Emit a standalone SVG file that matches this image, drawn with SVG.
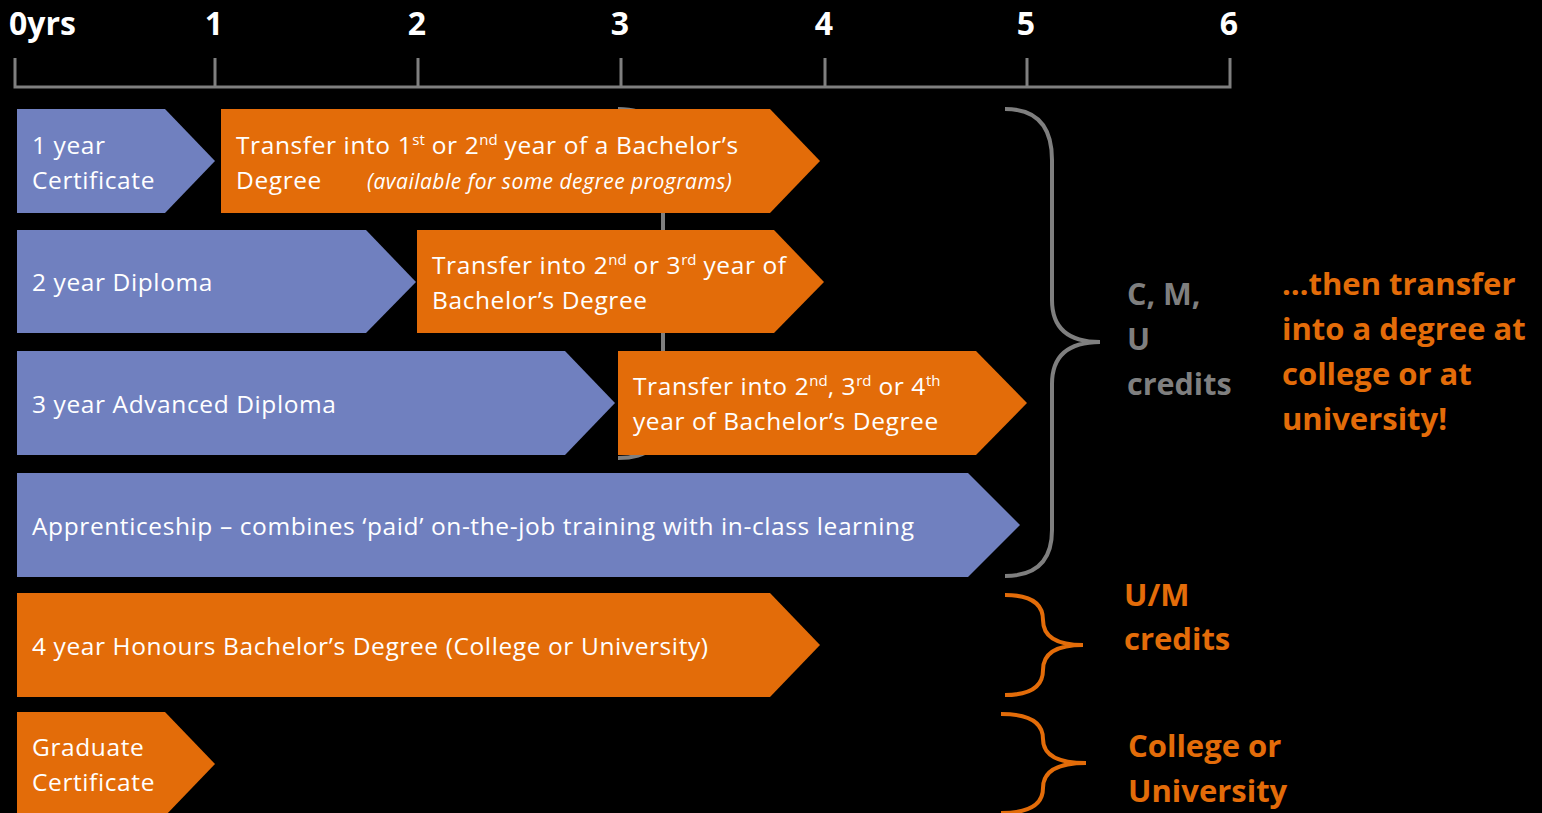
<svg xmlns="http://www.w3.org/2000/svg" width="1542" height="813" viewBox="0 0 1542 813">
<style>
.bg{fill:#000}
.blue{fill:#7080BF}
.orange{fill:#E36C09}
.t{font-family:"Open Sans","Liberation Sans",sans-serif;font-size:24.5px;letter-spacing:0.6px;fill:#fff}
.it{font-style:italic;font-size:21px;letter-spacing:0.5px}
.sup{font-size:15px;letter-spacing:0}
.ax{font-family:"Open Sans","Liberation Sans",sans-serif;font-weight:bold;font-size:32px;fill:#fff}
.gl{font-family:"Open Sans","Liberation Sans",sans-serif;font-weight:bold;font-size:30.5px;fill:#7F7F7F}
.ol{font-family:"Open Sans","Liberation Sans",sans-serif;font-weight:bold;font-size:31px;fill:#E36C09}
.axis{stroke:#7F7F7F;stroke-width:3;fill:none}
.gbrace{stroke:#7F7F7F;stroke-width:4;fill:none}
.obrace{stroke:#E36C09;stroke-width:4;fill:none}
</style>
<rect class="bg" x="0" y="0" width="1542" height="813"/>
<g id="axis">
<path class="axis" d="M15,58 V87 H1230 V58 M215,58 V87 M418,58 V87 M621,58 V87 M825,58 V87 M1027,58 V87"/>
<text class="ax" x="9" y="35">0yrs</text>
<text class="ax" x="214" y="35" text-anchor="middle">1</text>
<text class="ax" x="417" y="35" text-anchor="middle">2</text>
<text class="ax" x="620" y="35" text-anchor="middle">3</text>
<text class="ax" x="824" y="35" text-anchor="middle">4</text>
<text class="ax" x="1026" y="35" text-anchor="middle">5</text>
<text class="ax" x="1229" y="35" text-anchor="middle">6</text>
</g>
<g id="connectors">
<path class="gbrace" d="M618,109 Q663,109 663,150 L663,420 Q663,458 618,458"/>
<path class="gbrace" d="M1005,109 Q1052,109 1052,160 L1052,300 Q1052,342 1100,342 Q1052,342 1052,384 L1052,530 Q1052,576 1005,576"/>
<path class="obrace" d="M1005,595 Q1043,595 1043,620 Q1043,645 1083,645 Q1043,645 1043,670 Q1043,695 1005,695"/>
<path class="obrace" d="M1001,714 Q1043,714 1043,739 Q1043,763 1086,763 Q1043,763 1043,788 Q1043,813 1001,813"/>
</g>
<g id="cert1">
<polygon class="blue" points="17,109 165,109 215,161 165,213 17,213"/>
<text class="t" x="32" y="154">1 year</text>
<text class="t" x="32" y="189">Certificate</text>
</g>
<g id="transfer1">
<polygon class="orange" points="221,109 770,109 820,161 770,213 221,213"/>
<text class="t" x="236" y="154">Transfer into 1<tspan class="sup" dy="-9">st</tspan><tspan dy="9"> or 2</tspan><tspan class="sup" dy="-9">nd</tspan><tspan dy="9"> year of a Bachelor’s</tspan></text>
<text class="t" x="236" y="189">Degree</text>
<text class="t it" x="367" y="189">(available for some degree programs)</text>
</g>
<g id="diploma2">
<polygon class="blue" points="17,230 366,230 416,282 366,333 17,333"/>
<text class="t" x="32" y="291">2 year Diploma</text>
</g>
<g id="transfer2">
<polygon class="orange" points="417,230 774,230 824,282 774,333 417,333"/>
<text class="t" x="432" y="274">Transfer into 2<tspan class="sup" dy="-9">nd</tspan><tspan dy="9"> or 3</tspan><tspan class="sup" dy="-9">rd</tspan><tspan dy="9"> year of</tspan></text>
<text class="t" x="432" y="309">Bachelor’s Degree</text>
</g>
<g id="diploma3">
<polygon class="blue" points="17,351 565,351 615,403 565,455 17,455"/>
<text class="t" x="32" y="413">3 year Advanced Diploma</text>
</g>
<g id="transfer3">
<polygon class="orange" points="618,351 976,351 1027,403 976,455 618,455"/>
<text class="t" x="633" y="395">Transfer into 2<tspan class="sup" dy="-9">nd</tspan><tspan dy="9">, 3</tspan><tspan class="sup" dy="-9">rd</tspan><tspan dy="9"> or 4</tspan><tspan class="sup" dy="-9">th</tspan></text>
<text class="t" x="633" y="430">year of Bachelor’s Degree</text>
</g>
<g id="apprenticeship">
<polygon class="blue" points="17,473 968,473 1020,525 968,577 17,577"/>
<text class="t" x="32" y="535">Apprenticeship – combines ‘paid’ on-the-job training with in-class learning</text>
</g>
<g id="honours">
<polygon class="orange" points="17,593 770,593 820,645 770,697 17,697"/>
<text class="t" x="32" y="655">4 year Honours Bachelor’s Degree (College or University)</text>
</g>
<g id="gradcert">
<polygon class="orange" points="17,712 165,712 215,764 165,816 17,816"/>
<text class="t" x="32" y="756">Graduate</text>
<text class="t" x="32" y="791">Certificate</text>
</g>
<g id="labels">
<text class="gl" x="1127" y="305">C, M,</text>
<text class="gl" x="1127" y="350">U</text>
<text class="gl" x="1127" y="395">credits</text>
<text class="ol" x="1282" y="295">…then transfer</text>
<text class="ol" x="1282" y="340">into a degree at</text>
<text class="ol" x="1282" y="385">college or at</text>
<text class="ol" x="1282" y="430">university!</text>
<text class="ol" x="1124" y="606">U/M</text>
<text class="ol" x="1124" y="650">credits</text>
<text class="ol" x="1128" y="757">College or</text>
<text class="ol" x="1128" y="802">University</text>
</g>
</svg>
